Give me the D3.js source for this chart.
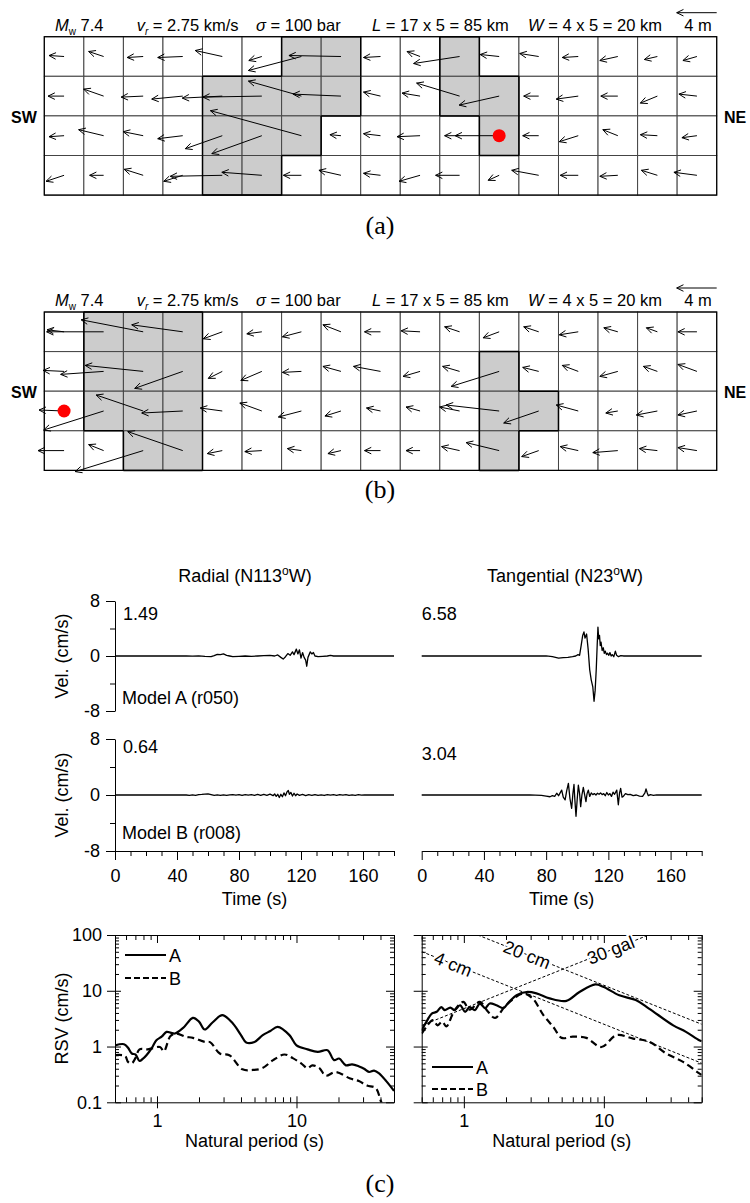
<!DOCTYPE html>
<html>
<head>
<meta charset="utf-8">
<script src="https://cdn.jsdelivr.net/npm/d3@7"></script>
<style>
body { margin: 0; background: #fff; }
svg { display: block; font-family: Arial, "Liberation Sans", sans-serif; }
.tick text { font-size: 18px; font-family: Arial, "Liberation Sans", sans-serif; }
</style>
</head>
<body>
<svg id="fig" width="750" height="1203"></svg>
<script>
// ---- fault models (17 x 4 subfaults, 5 km each) ----
const faultCols = 17, faultRows = 4;

// slip vectors in metres, along strike (+ to NE) and down dip, rows top -> bottom
const slipA_e = [
  [-1.5,-1.5,-1.6,-2.5,-2.7,-1.3,-5.3,-5.2,-1.7,-1.3,-4.6,-1.9,-1.9,-1.6,-1.8,-1.3,-1.4],
  [-1.6,-2.0,-2.2,-3.1,-4.0,-5.9,-5.3,-4.8,-1.7,-1.8,-4.3,-4.0,-1.5,-2.2,-1.7,-1.7,-1.8],
  [-1.5,-2.5,-2.0,-2.5,-3.7,-5.0,-9.1,-1.1,-1.7,-2.3,-1.5,-4.4,-1.6,-1.9,-1.5,-1.7,-1.5],
  [-1.8,-1.4,-1.9,-1.9,-5.2,-4.0,-1.8,-2.2,-1.7,-2.1,-2.4,-1.1,-2.7,-1.8,-1.8,-1.6,-2.3]
];
const slipA_d = [
  [-0.1,-0.5,0.1,0.1,-0.6,0.4,1.4,-0.1,0.1,-0.5,0.7,-0.2,-0.3,0.1,0.4,0.3,0.4],
  [0,-0.7,0.1,0.3,0.2,0.1,-1.5,-0.2,-0.4,-0.3,-1.3,0.9,0,0.3,0,0.7,-0.2],
  [0.1,-0.6,-0.4,0.3,1.3,1.8,-2.5,-0.1,-0.2,0.1,0,0,0,0.6,-0.6,-0.1,0.2],
  [0.6,0,-0.6,0.6,0.1,-0.3,0,-0.5,-0.2,0.6,0,0.5,-0.5,0,0.1,-0.5,-0.3]
];
const slipB_e = [
  [-1.7,-5.7,-6.2,-5.1,-1.9,-1.5,-1.9,-1.8,-1.6,-1.9,-1.5,-1.6,-1.5,-1.9,-1.4,-1.1,-1.9],
  [-2.1,-4.3,-5.8,-4.8,-1.4,-2.1,-1.9,-1.8,-2.7,-1.7,-1.7,-4.8,-1.6,-1.6,-1.8,-1.4,-1.9],
  [-2.5,-6.0,-4.7,-4.1,-2.2,-2.2,-2.3,-1.6,-1.4,-1.4,-2.0,-5.3,-3.5,-2.2,-1.2,-2.1,-1.9],
  [-2.6,-1.5,-6.8,-5.5,-1.5,-1.7,-1.4,-1.3,-1.6,-1.4,-1.8,-3.3,-1.7,-1.8,-2.5,-1.8,-1.9]
];
const slipB_d = [
  [-0.2,0,-1.2,-0.7,0.7,0.2,0.5,-0.7,0,-0.1,-0.5,0.6,-0.5,0.3,-0.4,-0.4,0],
  [-0.1,0.3,-0.6,1.7,0.7,0.9,0.1,-0.5,-0.5,0.5,-0.5,1.5,-0.4,-0.6,0.5,-0.5,-0.7],
  [-0.1,1.9,-1.6,0.2,-0.3,-0.8,0.6,0.5,-0.3,-0.4,-0.4,-0.6,1.2,-0.6,0.2,0.4,0.4],
  [0,-0.6,2.1,-1.9,0.3,0.1,-0.2,0.3,0,0,-0.4,-0.8,0.6,-0.4,0.2,-0.2,-0.3]
];
// asperity subfaults [row, col]
const asperityA = [[0,6],[0,7],[0,10],[1,4],[1,5],[1,6],[1,7],[1,10],[1,11],[2,4],[2,5],[2,6],[2,11],[3,4],[3,5]];
const asperityB = [[0,1],[0,2],[0,3],[1,1],[1,2],[1,3],[1,11],[2,1],[2,2],[2,3],[2,11],[2,12],[3,2],[3,3],[3,11]];
const hypoA = [2, 11];
const hypoB = [2, 0];

// ---- velocity waveforms [time s, vel cm/s] ----
const radialA = [[0,0],[46,0],[50,-0.02],[54,0.03],[58,-0.05],[62,-0.1],[64,0.05],[66,0.25],[68,0.2],[70,0.3],[72,0.1],[74,0],[76,-0.1],[80,-0.05],[84,0],[88,-0.05],[92,0],[96,0.05],[100,0.1],[103,0],[105,0.15],[107,-0.2],[108.5,-0.45],[110,-0.1],[111.5,0.35],[113,0.1],[114.5,0.6],[115.5,0.2],[117,1.0],[118,0.3],[119,0.9],[120,-0.3],[121,0.5],[122,-0.2],[123,-0.6],[123.7,-1.49],[124.5,-0.2],[126,0.6],[127,0.3],[128,0.5],[129,0],[131,-0.1],[134,-0.05],[137,0],[139,0.1],[141,0],[180,0]];
const tangA = [[0,0],[76,0],[80,0.02],[84,-0.1],[88,-0.3],[91,-0.25],[94,-0.2],[97,-0.1],[99,0],[100.5,0.2],[101.5,0.1],[102.5,1.5],[103.5,3.0],[104.3,3.5],[105,2.6],[106,3.2],[107,1.0],[108,-2.0],[109,-3.5],[110,-4.5],[110.8,-6.58],[111.5,-5.0],[112.2,-2.0],[112.8,1.5],[113.3,4.2],[113.8,2.5],[114.3,3.0],[114.8,1.5],[115.3,2.0],[116,0.8],[116.7,1.2],[117.4,0.4],[118,0.7],[118.8,0.2],[119.5,0.4],[120.3,0.1],[121,0.5],[121.8,0],[122.5,0.2],[123.5,-0.1],[124.5,0.7],[125.3,0.1],[126.5,-0.1],[128,0.05],[130,0],[180,0]];
const radialB = [[0,0],[46,0],[48,-0.05],[50,0.03],[52,-0.06],[54,0.05],[56,0.08],[58,0.12],[60,0.15],[62,0.05],[64,-0.05],[66,0.02],[68,-0.04],[70,0.03],[72,-0.06],[74,0.02],[76,0.05],[78,-0.03],[80,0.04],[82,-0.05],[84,0.06],[86,-0.02],[88,0.05],[90,-0.04],[92,0.08],[94,-0.06],[96,0.1],[98,-0.05],[100,0.12],[102,-0.1],[103,0.15],[104,-0.2],[105,0.1],[106,-0.35],[107,0.1],[108,-0.25],[109,0.3],[110,-0.1],[111,0.45],[111.8,0.64],[112.5,0.1],[113.5,0.35],[114.5,-0.15],[115.5,0.25],[116.5,-0.1],[117.5,0.15],[119,-0.05],[121,0.08],[123,-0.1],[125,0.05],[127,-0.05],[129,0.06],[131,-0.04],[133,0.03],[135,-0.07],[137,0.05],[139,-0.03],[141,0.04],[143,-0.06],[145,0.05],[147,-0.02],[149,0.04],[151,-0.05],[153,0.03],[155,-0.04],[157,0.05],[159,-0.03],[161,0.02],[162,0],[180,0]];
const tangB = [[0,0],[69.5,0],[73,-0.02],[77,-0.05],[80,-0.15],[82.5,-0.25],[84,-0.1],[85.5,-0.2],[86.8,0.25],[88,-0.1],[89,0.3],[90,0.7],[91,-0.3],[92.2,-0.7],[93.2,0.6],[94.3,1.67],[95.3,-0.5],[96.4,-1.9],[97.2,0.2],[97.9,1.5],[98.5,-0.8],[99.2,-3.04],[100,-0.5],[100.7,1.4],[101.5,0.2],[102.2,-1.67],[103,0],[103.9,1.1],[104.7,0.1],[105.6,-0.95],[106.3,0.2],[107.1,0.7],[108,-0.2],[109,0.3],[110,0.05],[111,0.2],[112,0],[113,0.25],[114,0.1],[115,0.3],[116,0.05],[117,0.2],[118,-0.1],[119,0.35],[120,0],[121,0.2],[122,-0.2],[123,0.4],[124,0.1],[125.4,0.7],[126.4,-1.4],[127.2,0.3],[127.9,0.95],[128.8,-0.3],[129.6,-0.2],[131,0.2],[132.5,0.05],[134,0.1],[136,-0.1],[138,0],[140,-0.15],[142,-0.2],[143.5,0.3],[144.2,0.86],[145,0.3],[145.7,-0.1],[147,0.05],[149,-0.05],[151,0.02],[152,0],[180,0]];
const peakLabels = [["1.49", "6.58"], ["0.64", "3.04"]];
const modelLabels = ["Model A (r050)", "Model B (r008)"];
const timeTicks = [0, 40, 80, 120, 160];
const velTicks = [-8, 0, 8];

// ---- response spectra [period s, RSV cm/s] ----
const rsvRadialA = [[0.5,1.05],[0.58,1.1],[0.62,0.95],[0.66,0.75],[0.7,0.72],[0.75,0.55],[0.79,0.6],[0.84,0.7],[0.92,0.95],[0.99,1.3],[1.08,1.5],[1.17,1.83],[1.25,1.78],[1.34,1.71],[1.54,2.16],[1.81,3.26],[2.0,2.8],[2.2,2.02],[2.5,2.7],[2.94,3.65],[3.5,2.59],[4.0,1.6],[4.36,1.18],[5.0,1.21],[5.73,1.6],[6.5,1.9],[7.33,2.25],[8.9,1.6],[10,1.05],[12,0.89],[14.2,0.8],[16.7,0.86],[18.6,0.57],[20.2,0.61],[22.6,0.46],[25,0.48],[28.1,0.44],[30.5,0.4],[33.1,0.35],[36,0.37],[39.1,0.33],[44,0.24],[50,0.16]];
const rsvRadialB = [[0.5,0.7],[0.59,0.68],[0.62,0.53],[0.66,0.5],[0.7,0.62],[0.75,0.89],[0.86,0.89],[1.05,0.98],[1.12,0.82],[1.25,1.55],[1.38,1.71],[1.6,1.5],[1.81,1.43],[2.2,1.21],[2.4,1.2],[2.82,0.75],[3.3,0.7],[4.1,0.39],[4.86,0.38],[5.7,0.41],[6.8,0.57],[8.2,0.72],[9.4,0.62],[10.8,0.5],[12,0.41],[13,0.46],[14.6,0.41],[16.2,0.3],[19.1,0.35],[24,0.27],[28,0.24],[32,0.2],[37,0.18],[40.6,0.1],[43,0.08]];
const rsvTangA = [[0.5,1.96],[0.54,2.77],[0.59,3.9],[0.64,4.2],[0.69,5.1],[0.73,4.5],[0.8,5.0],[0.86,4.5],[0.94,5.5],[1.02,4.2],[1.1,5.1],[1.2,4.5],[1.3,5.9],[1.42,4.9],[1.53,5.9],[1.71,5.5],[1.92,4.9],[2.1,6.3],[2.38,8.3],[2.8,9.5],[3.3,9.0],[4.1,7.3],[5.4,6.6],[6.7,9.5],[8.7,13],[9.9,11.8],[12.9,8.3],[16.9,6.8],[21,4.8],[31.3,2.4],[38.6,1.83],[48,1.3],[50,1.25]];
const rsvTangB = [[0.5,1.71],[0.55,2.4],[0.6,2.97],[0.65,2.4],[0.7,2.8],[0.75,2.3],[0.86,4.5],[0.99,6.3],[1.1,4.6],[1.3,6.3],[1.49,4.2],[1.67,3.26],[2.0,5.5],[2.66,8.9],[3.1,7.3],[3.7,3.65],[4.35,2.25],[5.0,1.43],[6.0,1.5],[7.5,1.43],[9.6,0.98],[12.3,1.6],[16.2,1.39],[21.2,1.21],[27.9,0.75],[36.8,0.53],[48,0.33],[50,0.31]];
// constant displacement / acceleration guide lines (tangential panel)
const guideLabels = ["4 cm", "20 cm", "30 gal"];
const guideStart = [[0.5, 50.3], [1.257, 100], [0.5, 2.39]];
const guideEnd = [[50, 0.503], [50, 2.51], [20.9, 100]];
const guideLabelAt = [0.84, 2.83, 11.2];
const rsvTicks = [0.1, 1, 10, 100];
const periodTicks = [1, 10];

const svg = d3.select("#fig");
const ink = "#000";
const fs = 18;

function arrow(g, x1, y1, x2, y2, len) {
  const a = Math.atan2(y2 - y1, x2 - x1), L = len || 7.5, w = 0.45;
  g.append("line").attr("x1", x1).attr("y1", y1).attr("x2", x2).attr("y2", y2)
    .attr("stroke", ink).attr("stroke-width", 1);
  g.append("path")
    .attr("d", "M" + (x2 - L * Math.cos(a - w)) + "," + (y2 - L * Math.sin(a - w)) +
      "L" + x2 + "," + y2 + "L" + (x2 - L * Math.cos(a + w)) + "," + (y2 - L * Math.sin(a + w)))
    .attr("fill", "none").attr("stroke", ink).attr("stroke-width", 1);
}

// each axis call gets its own group, otherwise d3 rebinds the ticks
function addAxis(parent, tr, axis, keepDomain) {
  const g = parent.append("g").attr("transform", tr).call(axis);
  if (!keepDomain) g.select(".domain").remove();
  return g;
}

/**
 * draw one fault plane with its slip arrows
 */
function drawFault(top, slipE, slipD, asp, hypo, tag, tagY) {
  const g = svg.append("g");
  const xc = d3.scaleLinear().domain([0, faultCols]).range([44.3, 716.7]);
  const yr = d3.scaleLinear().domain([0, faultRows]).range([top, top + 158.4]);
  const slip = d3.scaleLinear().domain([0, 4]).range([0, 40]);
  const isAsp = (r, c) => asp.some(a => a[0] === r && a[1] === c);
  const cells = d3.cross(d3.range(faultRows), d3.range(faultCols))
    .map(([r, c]) => ({ r: r, c: c, asp: isAsp(r, c), e: slipE[r][c], d: slipD[r][c] }));

  g.selectAll("rect.cell").data(cells).enter().append("rect")
    .attr("x", d => xc(d.c)).attr("y", d => yr(d.r))
    .attr("width", xc(1) - xc(0)).attr("height", yr(1) - yr(0))
    .attr("fill", d => d.asp ? "#cccccc" : "#fff")
    .attr("stroke", "#444").attr("stroke-width", 1);

  // black outline around asperities
  const edges = [];
  cells.filter(d => d.asp).forEach(d => {
    if (!isAsp(d.r - 1, d.c)) edges.push([d.c, d.r, d.c + 1, d.r]);
    if (!isAsp(d.r + 1, d.c)) edges.push([d.c, d.r + 1, d.c + 1, d.r + 1]);
    if (!isAsp(d.r, d.c - 1)) edges.push([d.c, d.r, d.c, d.r + 1]);
    if (!isAsp(d.r, d.c + 1)) edges.push([d.c + 1, d.r, d.c + 1, d.r + 1]);
  });
  g.selectAll("line.edge").data(edges).enter().append("line")
    .attr("x1", d => xc(d[0])).attr("y1", d => yr(d[1]))
    .attr("x2", d => xc(d[2])).attr("y2", d => yr(d[3]))
    .attr("stroke", ink).attr("stroke-width", 1.5);
  g.append("rect").attr("x", xc(0)).attr("y", yr(0))
    .attr("width", xc(faultCols) - xc(0)).attr("height", yr(faultRows) - yr(0))
    .attr("fill", "none").attr("stroke", ink).attr("stroke-width", 1.2);

  cells.forEach(d => {
    const x1 = xc(d.c + 0.5), y1 = yr(d.r + 0.5);
    arrow(g, x1, y1, x1 + slip(d.e), y1 + slip(d.d));
  });

  g.append("circle").attr("cx", xc(hypo[1] + 0.5)).attr("cy", yr(hypo[0] + 0.5))
    .attr("r", 6.5).attr("fill", "#f00");

  // header line
  const hy = top - 6, hs = 16.5;
  const t1 = g.append("text").attr("x", 55).attr("y", hy).attr("font-size", hs);
  t1.append("tspan").attr("font-style", "italic").text("M");
  t1.append("tspan").attr("dy", 4).attr("font-size", 10).text("w");
  t1.append("tspan").attr("dy", -4).text(" 7.4");
  const t2 = g.append("text").attr("x", 136.7).attr("y", hy).attr("font-size", hs);
  t2.append("tspan").attr("font-style", "italic").text("v");
  t2.append("tspan").attr("dy", 4).attr("font-size", 10).attr("font-style", "italic").text("r");
  t2.append("tspan").attr("dy", -4).text(" = 2.75 km/s");
  const t3 = g.append("text").attr("x", 256).attr("y", hy).attr("font-size", hs);
  t3.append("tspan").attr("font-style", "italic").text("σ");
  t3.append("tspan").text(" = 100 bar");
  const t4 = g.append("text").attr("x", 372).attr("y", hy).attr("font-size", hs);
  t4.append("tspan").attr("font-style", "italic").text("L");
  t4.append("tspan").text(" = 17 x 5 = 85 km");
  const t5 = g.append("text").attr("x", 528).attr("y", hy).attr("font-size", hs);
  t5.append("tspan").attr("font-style", "italic").text("W");
  t5.append("tspan").text(" = 4 x 5 = 20 km");
  g.append("text").attr("x", 698).attr("y", hy).attr("font-size", hs)
    .attr("text-anchor", "middle").text("4 m");
  arrow(g, xc(faultCols), top - 24, xc(faultCols) - slip(4), top - 24);

  g.append("text").attr("x", 24).attr("y", yr(2) + 7).attr("font-size", 16)
    .attr("font-weight", "bold").attr("text-anchor", "middle").text("SW");
  g.append("text").attr("x", 735).attr("y", yr(2) + 7).attr("font-size", 16)
    .attr("font-weight", "bold").attr("text-anchor", "middle").text("NE");

  svg.append("text").attr("x", 380).attr("y", tagY).attr("text-anchor", "middle")
    .attr("font-family", "'Liberation Serif','Times New Roman',serif").attr("font-size", 26).text(tag);
}

drawFault(36.7, slipA_e, slipA_d, asperityA, hypoA, "(a)", 234);
drawFault(312, slipB_e, slipB_d, asperityB, hypoB, "(b)", 498);

// ---- waveforms ----
const xTimeL = d3.scaleLinear().domain([0, 180]).range([115, 394]);
const xTimeR = d3.scaleLinear().domain([0, 180]).range([421.7, 701.7]);
const yVel = [d3.scaleLinear().domain([-8, 8]).range([711, 601]),
              d3.scaleLinear().domain([-8, 8]).range([851, 739])];
const waves = [[radialA, tangA], [radialB, tangB]];

svg.append("text").attr("x", 245).attr("y", 581.5).attr("font-size", fs).attr("text-anchor", "middle")
  .call(t => { t.append("tspan").text("Radial (N113"); t.append("tspan").attr("dy", -7).attr("font-size", 12).text("o");
               t.append("tspan").attr("dy", 7).text("W)"); });
svg.append("text").attr("x", 565).attr("y", 581.5).attr("font-size", fs).attr("text-anchor", "middle")
  .call(t => { t.append("tspan").text("Tangential (N23"); t.append("tspan").attr("dy", -7).attr("font-size", 12).text("o");
               t.append("tspan").attr("dy", 7).text("W)"); });

const peakDy = [[18.5, 18.5], [14, 21]];
const modelDy = [-7.5, -12];
waves.forEach((pair, i) => {
  const y = yVel[i];
  addAxis(svg, "translate(115,0)", d3.axisLeft(y).tickValues(velTicks).tickSize(9).tickPadding(6)
    .tickSizeOuter(0).tickFormat(d => String(d)), true);
  addAxis(svg, "translate(115,0)", d3.axisLeft(y).tickValues([-4, 4]).tickSize(5).tickFormat(""));
  svg.append("text").attr("transform", "translate(68," + y(0) + ") rotate(-90)")
    .attr("text-anchor", "middle").attr("font-size", fs).text("Vel. (cm/s)");

  [xTimeL, xTimeR].forEach((x, j) => {
    const line = d3.line().x(d => x(d[0])).y(d => y(d[1]));
    svg.append("path").datum(pair[j]).attr("d", line)
      .attr("fill", "none").attr("stroke", ink).attr("stroke-width", 1.3).attr("stroke-linejoin", "round");
    svg.append("text").attr("x", j === 0 ? 123 : 421.7).attr("y", y(8) + peakDy[i][j])
      .attr("font-size", fs).text(peakLabels[i][j]);
  });
  svg.append("text").attr("x", 122).attr("y", y(-8) + modelDy[i]).attr("font-size", fs).text(modelLabels[i]);
});

[xTimeL, xTimeR].forEach(x => {
  addAxis(svg, "translate(0,851)", d3.axisBottom(x).tickValues(timeTicks).tickSize(9).tickPadding(9).tickSizeOuter(0), true);
  addAxis(svg, "translate(0,851)", d3.axisBottom(x).tickValues(d3.range(10, 181, 10).filter(v => v % 40 !== 0)).tickSize(5).tickFormat(""));
  svg.append("text").attr("x", (x.range()[0] + x.range()[1]) / 2).attr("y", 905)
    .attr("text-anchor", "middle").attr("font-size", fs).text("Time (s)");
});

// ---- response spectra ----
const yRsv = d3.scaleLog().domain([0.1, 100]).range([1102.3, 935]);
const xPerL = d3.scaleLog().domain([0.5, 50]).range([115, 394]);
const xPerR = d3.scaleLog().domain([0.5, 50]).range([421.7, 701.7]);

function rsvFrame(x, labels) {
  const g = svg.append("g");
  const [x0, x1] = x.range(), [y0, y1] = yRsv.range();
  const xMinor = x.ticks().filter(v => periodTicks.indexOf(v) < 0);
  const yMinor = yRsv.ticks().filter(v => rsvTicks.indexOf(v) < 0);
  const bt = "translate(0," + y0 + ")", tt = "translate(0," + y1 + ")";
  const lt = "translate(" + x0 + ",0)", rt = "translate(" + x1 + ",0)";
  // bottom
  addAxis(g, bt, d3.axisBottom(x).tickValues(periodTicks).tickFormat(d3.format("d")).tickSize(6).tickPadding(6).tickSizeOuter(0), true);
  addAxis(g, bt, d3.axisBottom(x).tickValues(periodTicks).tickSize(-6).tickFormat(""));
  addAxis(g, bt, d3.axisBottom(x).tickValues(xMinor).tickSize(-5).tickFormat(""));
  // top
  addAxis(g, tt, d3.axisTop(x).tickValues(periodTicks).tickSize(-8).tickFormat("").tickSizeOuter(0), true);
  addAxis(g, tt, d3.axisTop(x).tickValues(xMinor).tickSize(-5).tickFormat(""));
  // left
  addAxis(g, lt, d3.axisLeft(yRsv).tickValues(rsvTicks).tickSize(8).tickPadding(5).tickSizeOuter(0)
    .tickFormat(labels ? (d => d < 1 ? "0.1" : d3.format("d")(d)) : ""), true);
  addAxis(g, lt, d3.axisLeft(yRsv).tickValues(rsvTicks).tickSize(-6).tickFormat(""));
  addAxis(g, lt, d3.axisLeft(yRsv).tickValues(yMinor).tickSize(-4).tickFormat(""));
  // right
  addAxis(g, rt, d3.axisRight(yRsv).tickValues(rsvTicks).tickSize(-8).tickFormat("").tickSizeOuter(0), true);
  addAxis(g, rt, d3.axisRight(yRsv).tickValues(yMinor).tickSize(-4).tickFormat(""));
  svg.append("text").attr("x", (x0 + x1) / 2).attr("y", 1147).attr("text-anchor", "middle")
    .attr("font-size", fs).text("Natural period (s)");
}
rsvFrame(xPerL, true);
rsvFrame(xPerR, false);
svg.append("text").attr("transform", "translate(68,1018.5) rotate(-90)")
  .attr("text-anchor", "middle").attr("font-size", fs).text("RSV (cm/s)");

svg.append("defs").append("clipPath").attr("id", "clipL").append("rect")
  .attr("x", 115).attr("y", 935).attr("width", 279).attr("height", 167.3);
svg.select("defs").append("clipPath").attr("id", "clipR").append("rect")
  .attr("x", 421.7).attr("y", 935).attr("width", 280).attr("height", 167.3);

// guide lines
const gGuide = svg.append("g").attr("clip-path", "url(#clipR)");
guideLabels.forEach((lab, i) => {
  const p0 = [xPerR(guideStart[i][0]), yRsv(guideStart[i][1])];
  const p1 = [xPerR(guideEnd[i][0]), yRsv(guideEnd[i][1])];
  gGuide.append("line").attr("x1", p0[0]).attr("y1", p0[1]).attr("x2", p1[0]).attr("y2", p1[1])
    .attr("stroke", ink).attr("stroke-width", 1).attr("stroke-dasharray", "3,2");
  const f = (xPerR(guideLabelAt[i]) - p0[0]) / (p1[0] - p0[0]);
  const lx = xPerR(guideLabelAt[i]), ly = p0[1] + f * (p1[1] - p0[1]);
  const ang = Math.atan2(p1[1] - p0[1], p1[0] - p0[0]) * 180 / Math.PI;
  svg.append("text").attr("transform", "translate(" + lx + "," + ly + ") rotate(" + ang + ")")
    .attr("text-anchor", "middle").attr("dy", "0.35em").attr("font-size", fs)
    .attr("stroke", "#fff").attr("stroke-width", 4).attr("paint-order", "stroke").text(lab);
});

const rsvSets = [[xPerL, "clipL", rsvRadialA, rsvRadialB], [xPerR, "clipR", rsvTangA, rsvTangB]];
rsvSets.forEach(([x, clip, a, b]) => {
  const line = d3.line().x(d => x(d[0])).y(d => yRsv(d[1])).curve(d3.curveCatmullRom);
  const g = svg.append("g").attr("clip-path", "url(#" + clip + ")");
  g.append("path").datum(b).attr("d", line).attr("fill", "none").attr("stroke", ink)
    .attr("stroke-width", 2.2).attr("stroke-dasharray", "7,4");
  g.append("path").datum(a).attr("d", line).attr("fill", "none").attr("stroke", ink)
    .attr("stroke-width", 2.2);
});

// legends
const legendNames = ["A", "B"];
[[125, 955, 978], [432, 1067, 1089]].forEach(([lx, ya, yb]) => {
  [ya, yb].forEach((ly, k) => {
    svg.append("line").attr("x1", lx).attr("x2", lx + 41).attr("y1", ly).attr("y2", ly)
      .attr("stroke", ink).attr("stroke-width", 2.2).attr("stroke-dasharray", k ? "6,3" : null);
    svg.append("text").attr("x", lx + 44).attr("y", ly + 6.5).attr("font-size", fs).text(legendNames[k]);
  });
});

svg.append("text").attr("x", 380).attr("y", 1192).attr("text-anchor", "middle")
  .attr("font-family", "'Liberation Serif','Times New Roman',serif").attr("font-size", 26).text("(c)");
</script>
</body>
</html>
